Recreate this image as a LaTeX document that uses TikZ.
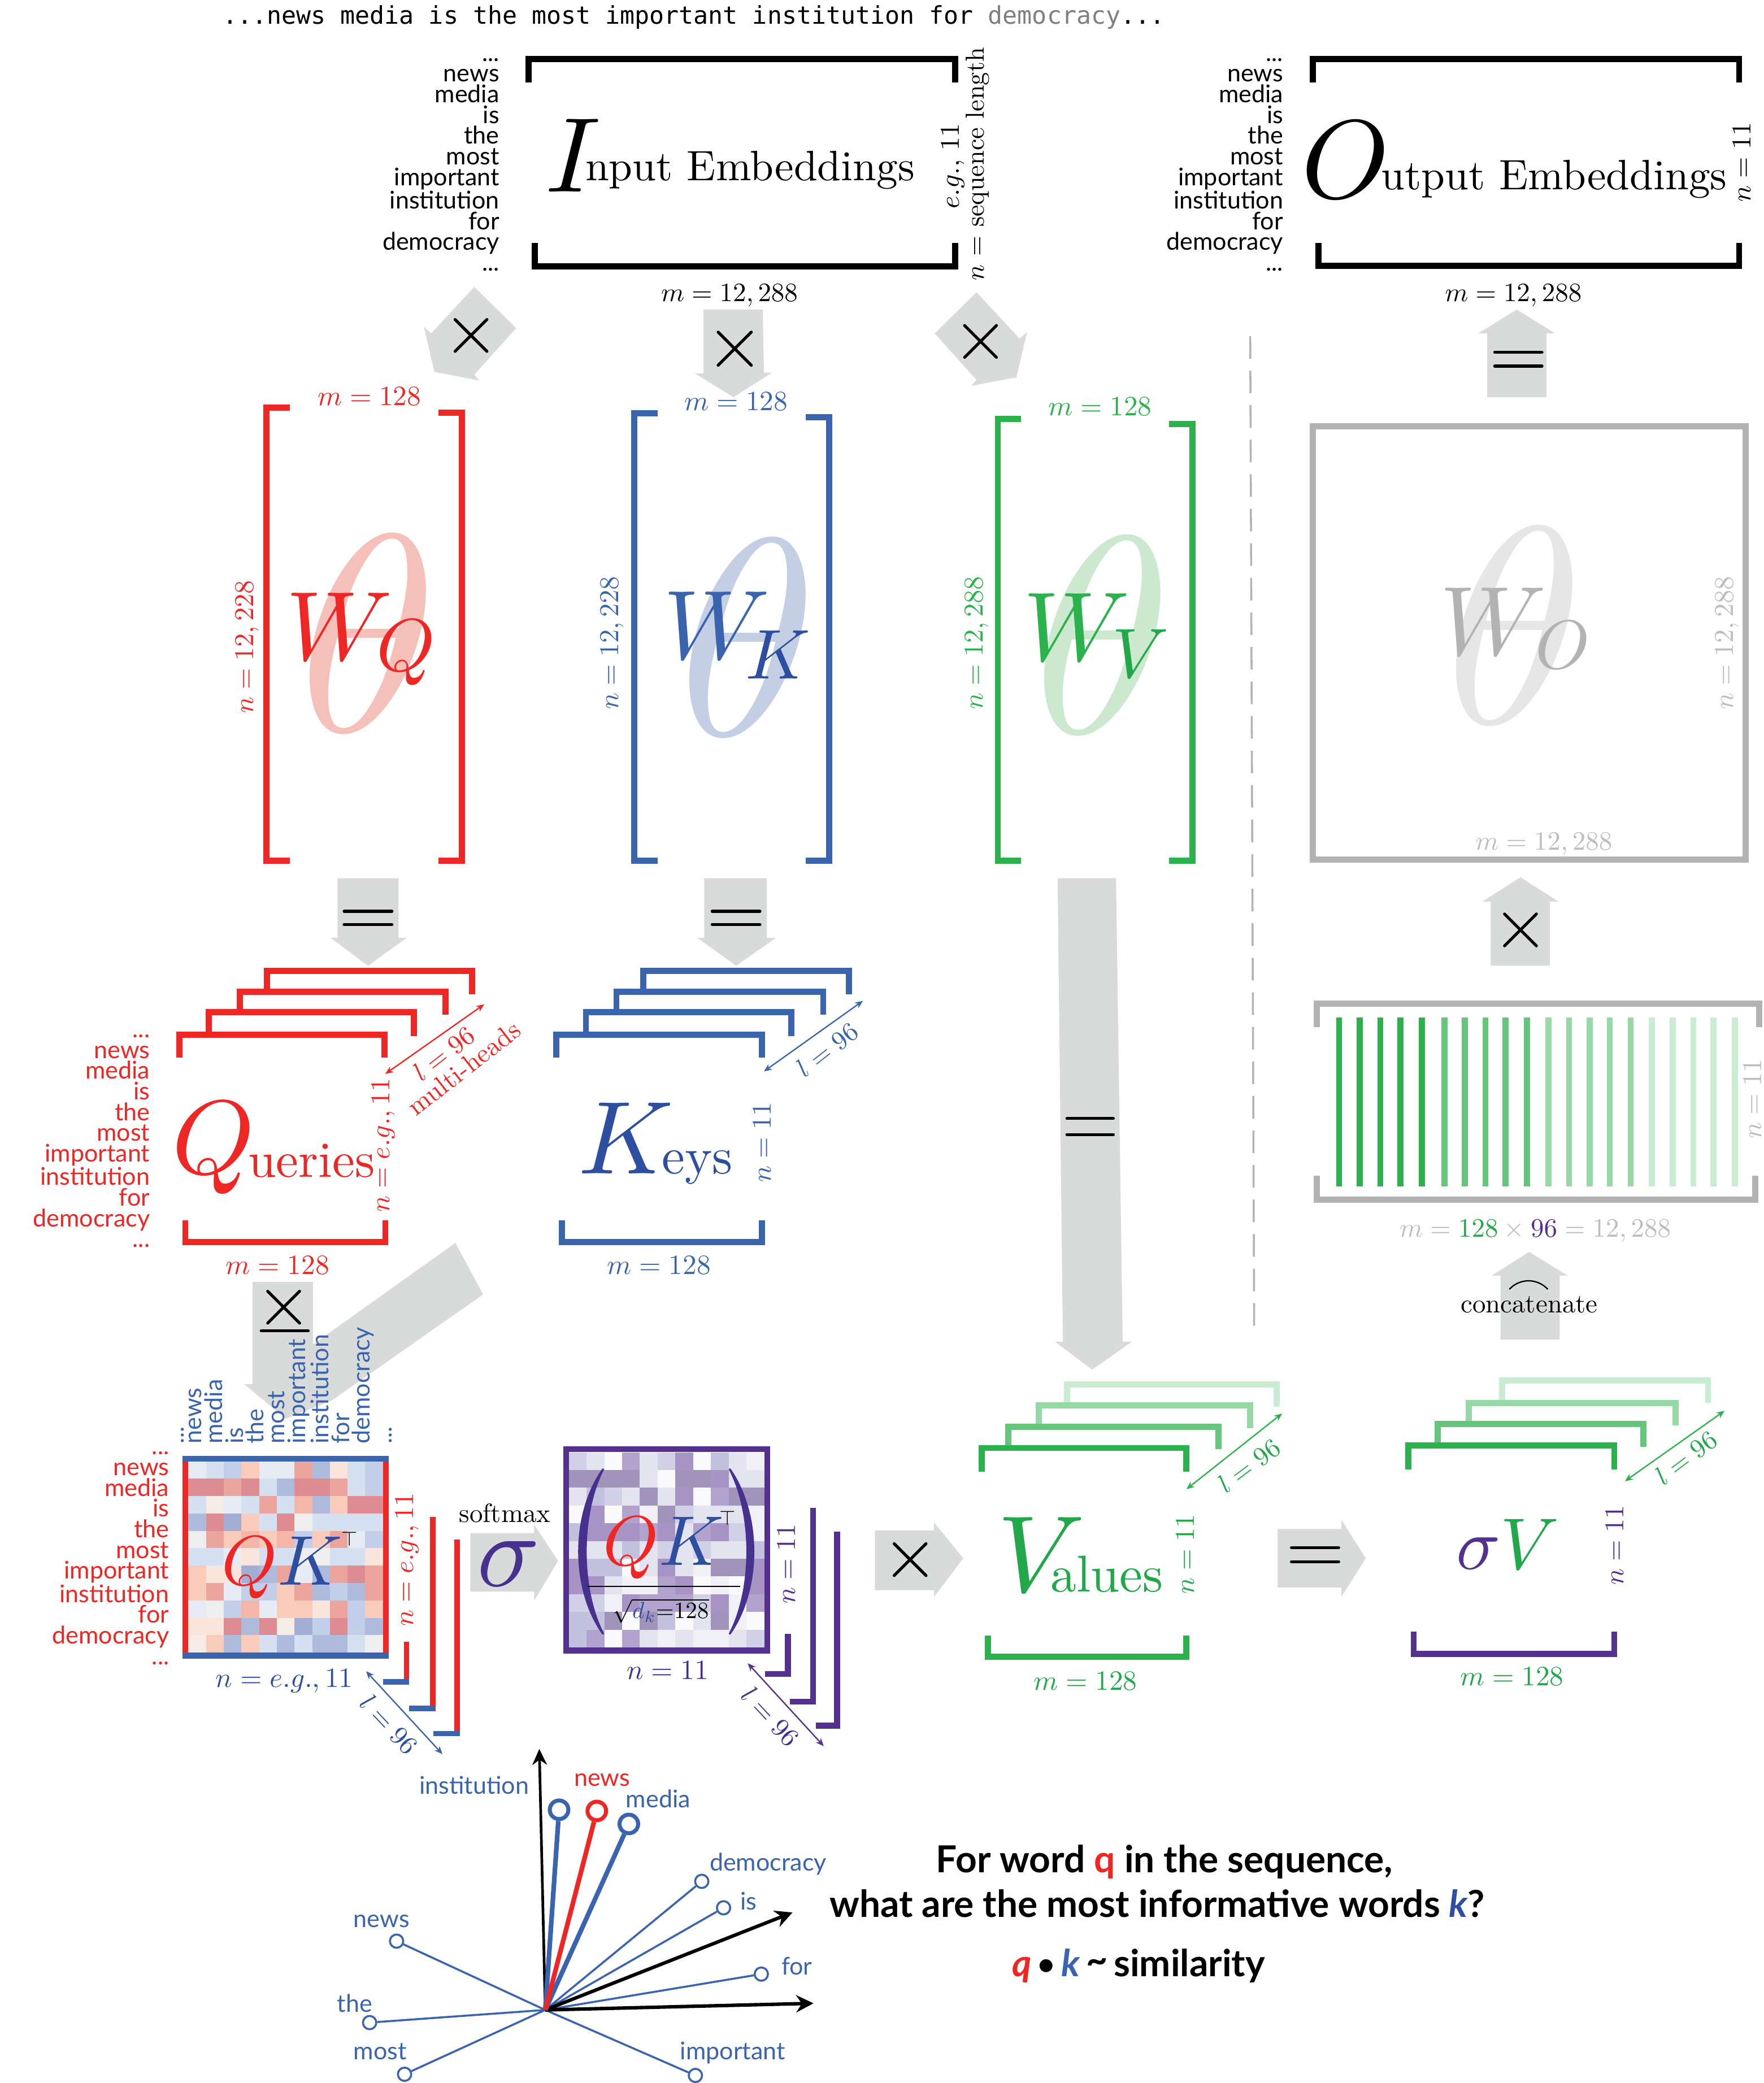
\documentclass[tikz,border=0pt]{standalone}
\usepackage{fix-cm}
\usepackage{fontspec}
\usetikzlibrary{arrows.meta}
\newfontfamily\gill{Lato}
\newfontfamily\monof{DejaVu Sans Mono}
\newcommand\fs[1]{\fontsize{#1}{#1}\selectfont}
\definecolor{cR}{HTML}{EE2724}
\definecolor{cB}{HTML}{3A64AE}
\definecolor{cBt}{HTML}{2E4F9F}
\definecolor{cG}{HTML}{2BB24C}
\definecolor{cGt}{HTML}{22A84A}
\definecolor{cP}{HTML}{54308F}
\definecolor{cPd}{HTML}{47318F}
\definecolor{cY}{HTML}{B3B3B3}
\definecolor{cYt}{HTML}{BDBDBD}
\definecolor{cA}{HTML}{D9DBDB}
\definecolor{gB}{HTML}{65C67B}
\definecolor{gC}{HTML}{96D8A6}
\definecolor{gD}{HTML}{C9ECD2}
\definecolor{tR}{HTML}{F5BFBA}
\definecolor{tB}{HTML}{C4CEE5}
\definecolor{tG}{HTML}{CCE8CE}
\definecolor{tY}{HTML}{E6E6E6}
% QK heat map
\definecolor{qa}{HTML}{A4AED5}\definecolor{qb}{HTML}{AFBBDC}\definecolor{qc}{HTML}{C3CFE8}
\definecolor{qd}{HTML}{D5E0F1}\definecolor{qe}{HTML}{E6EBF6}\definecolor{qn}{HTML}{EEEEEE}
\definecolor{qo}{HTML}{F6ECE6}\definecolor{qp}{HTML}{FAE5DC}\definecolor{qq}{HTML}{F8CBBB}
\definecolor{qr}{HTML}{F3B6A9}\definecolor{qs}{HTML}{EBA49E}\definecolor{qt}{HTML}{DE8C91}
% softmax heat map
\definecolor{pw}{HTML}{FAFAFC}\definecolor{pg}{HTML}{F1F0F7}\definecolor{pa}{HTML}{E4E3F0}
\definecolor{pb}{HTML}{D2D0E6}\definecolor{pc}{HTML}{C2C1DE}\definecolor{pd}{HTML}{B1A3CE}
\definecolor{pe}{HTML}{A894C4}\definecolor{pf}{HTML}{A094BA}
\tikzset{
  brk/.style={line width=4.6pt,line cap=butt,line join=miter},
  opline/.style={line width=2.2pt,line cap=round,black},
  blockarrow/.style={fill=cA,draw=none},
  lab/.style={inner sep=0pt,anchor=base,scale=2.1},
  rlab/.style={inner sep=0pt,rotate=90,scale=2.05},
  dimlab/.style={inner sep=0pt,scale=2.0},
  dimarr/.style={{Stealth[length=6pt,width=5pt]}-{Stealth[length=6pt,width=5pt]},line width=1pt},
  wordlist/.style={inner sep=0pt,anchor=east,align=right,font={\gill\fontsize{18.3}{15.6}\selectfont}},
  vwordlist/.style={inner sep=0pt,align=left,rotate=90,anchor=west,text=cB,font={\gill\fontsize{18.3}{15.6}\selectfont}},
  word/.style={inner sep=0pt,anchor=base west,text=cB,font={\gill\fs{18.3}}},
  big/.style={inner sep=0pt,anchor=base west},
  dot/.style={circle,draw=cB,fill=white,inner sep=0pt,minimum size=10pt,line width=1.5pt},
  bigdot/.style={circle,draw=cB,fill=white,inner sep=0pt,minimum size=14pt,line width=3pt},
  bold/.style={inner sep=0pt,anchor=base,font={\gill\bfseries\fs{28}}}
}
\newcommand\crossmark[3]{\draw[opline] (#1-#3,#2-#3)--(#1+#3,#2+#3) (#1+#3,#2-#3)--(#1-#3,#2+#3);}
\newcommand\eqmark[4]{\draw[opline] (#1,#3)--(#2,#3) (#1,#4)--(#2,#4);}
\newcommand\dimline[6]{\coordinate (#1a) at (#3,#4);\coordinate (#1b) at (#5,#6);\draw[dimarr,#2] (#1a)--(#1b);}
\begin{document}
\begin{tikzpicture}[x=1pt,y=-1pt]
\useasboundingbox (0,0) rectangle (1327.3,1568);
\fill[white] (0,0) rectangle (1327.3,1568);
% top sentence
\node[big,font={\monof\fs{18.4}}] (sent) at (167.5,18) {...news media is the most important institution for \textcolor[HTML]{808080}{democracy}...};
% input embeddings
\draw[brk] (398,62)--(398,44.5)--(719,44.5)--(719,62);
\draw[brk] (402.5,183)--(402.5,200.5)--(719,200.5)--(719,183);
\node[wordlist] (inwords) at (376,124) {...\\news\\media\\is\\the\\most\\important\\institution\\for~\\democracy\\...};
\node[big,scale=8] (inI) at (409,144.3) {$I$};
\node[big,scale=3.2] (inT) at (440,136) {nput Embeddings};
\node[rlab] (inE) at (717,125) {$e.g.$, 11};
\node[rlab,scale=0.96] (inN) at (736,123.5) {$n$ = sequence length};
\node[lab,scale=0.95] (inM) at (549,227) {$m=12,288$};
% output embeddings
\draw[brk] (988,62)--(988,44.5)--(1309,44.5)--(1309,62);
\draw[brk] (992.5,183)--(992.5,200)--(1309,200)--(1309,183);
\node[wordlist] (outwords) at (966,124) {...\\news\\media\\is\\the\\most\\important\\institution\\for~\\democracy\\...};
\node[big,scale=8.4] (outO) at (978,149) {$O$};
\node[big,scale=3.2] (outT) at (1039,142.5) {utput Embeddings};
\node[rlab] (outN) at (1311,122) {$n=11$};
\node[lab,scale=0.95] (outM) at (1139,227) {$m=12,288$};
% x arrows from input
\fill[blockarrow] (357,216)--(388.5,247)--(357,282)--(361,286.5)--(327,280)--(319,246)--(324.5,251)--cycle;
\fill[blockarrow] (529.5,233)--(574,233)--(575,280.6)--(581,280.6)--(552,299)--(523,281)--(529.5,281)--cycle;
\fill[blockarrow] (735,220)--(703.5,251)--(735,286)--(731,290.5)--(765,284)--(773,250)--(767.5,255)--cycle;
\crossmark{354.5}{252.5}{12}
\crossmark{553}{262.5}{12.5}
\crossmark{738}{257}{12}
% W matrices
\node[inner sep=0pt,text=tR,scale=21.2] (tq) at (277,477) {$\theta$};
\node[inner sep=0pt,text=tB,scale=21.2] (tk) at (563,480) {$\theta$};
\node[inner sep=0pt,text=tG,scale=21.2] (tv) at (830,478) {$\theta$};
\node[inner sep=0pt,text=tY,scale=21.2] (to) at (1140,471) {$\theta$};
\draw[brk,cR] (218,307)--(200.5,307)--(200.5,648)--(218,648);
\draw[brk,cR] (330,310.5)--(347.5,310.5)--(347.5,648)--(330,648);
\draw[brk,cB] (495,311)--(477.5,311)--(477.5,648)--(495,648);
\draw[brk,cB] (606.5,314)--(624,314)--(624,648)--(606.5,648);
\draw[brk,cG] (768.5,315.5)--(751,315.5)--(751,648)--(768.5,648);
\draw[brk,cG] (880,319)--(897.5,319)--(897.5,648)--(880,648);
\draw[line width=4.6pt,cY] (988,321)rectangle(1314,647);
\node[lab,text=cR] (wqm) at (278,305) {$m=128$};
\node[lab,text=cB] (wkm) at (554,309) {$m=128$};
\node[lab,text=cG] (wvm) at (828,313) {$m=128$};
\node[rlab,text=cR] (wqn) at (186,487) {$n=12,228$};
\node[rlab,text=cB] (wkn) at (461,484) {$n=12,228$};
\node[rlab,text=cG] (wvn) at (735,484) {$n=12,288$};
\node[rlab,text=cYt] (won) at (1300,484) {$n=12,288$};
\node[lab,scale=0.95,text=cYt] (wom) at (1162,640) {$m=12,288$};
\node[big,text=cR,scale=7.4] (wq) at (214,497) {$W$};
\node[big,text=cR,scale=5.6] (wqs) at (282.5,505) {$Q$};
\node[big,text=cB,scale=7.4] (wk) at (498,496) {$W$};
\node[big,text=cBt,scale=5.3] (wks) at (560,510.8) {$K$};
\node[big,text=cG,scale=7.4] (wv) at (769,497.5) {$W$};
\node[big,text=cGt,scale=5.3] (wvs) at (836,510) {$V$};
\node[big,text=cY,scale=7.4] (wo) at (1082.5,493) {$W$};
\node[big,text=cY,scale=5.2] (wos) at (1154.5,503.5) {$O$};
% = arrows
\fill[blockarrow] (254,661)--(300,661)--(300,706)--(306,706)--(277,727)--(249,706)--(254,706)--cycle;
\fill[blockarrow] (530,661)--(577,661)--(577,706)--(584,706)--(554,727)--(525,706)--(530,706)--cycle;
\eqmark{259}{295}{686}{696}
\eqmark{536}{572}{686}{696}
\fill[blockarrow] (796,661)--(840,661)--(845,1010)--(852,1010)--(822,1031)--(794,1010)--(800,1010)--cycle;
\eqmark{803}{838}{842}{854}
\fill[blockarrow] (1119.4,299)--(1164,299)--(1164,251)--(1170.6,251)--(1141.6,233)--(1112.6,251)--(1119.4,251)--cycle;
\eqmark{1125}{1160.6}{265.2}{275.6}
% separator
\coordinate (sepa) at (941,253);\coordinate (sepb) at (944,1005);
\draw[cY,line width=1.5pt,dash pattern=on 17pt off 9pt] (sepa)--(sepb);
% x up arrow
\fill[blockarrow] (1122,727)--(1166.6,727)--(1166.6,678.7)--(1173,678.7)--(1144.4,660.4)--(1115.6,678.7)--(1122,678.7)--cycle;
\crossmark{1144.4}{700}{12}
% concatenated box
\draw[brk,cY] (991,773)--(991,755.5)--(1324,755.5)--(1324,773);
\draw[brk,cY] (991,885)--(991,903)--(1321,903)--(1321,885);
\foreach \x/\c in {1007.9/cG,1023.4/cG,1038.9/cG,1054.1/cG,1070.1/cG,1087.1/gB,1102.6/gB,1118.1/gB,1133.1/gB,1149.4/gB,1165.4/gC,1180.9/gC,1196.4/gC,1211.6/gC,1227.4/gC,1243.4/gD,1258.9/gD,1274.6/gD,1289.6/gD,1305.9/gD}{
  \draw[line width=4.5pt,\c] (\x,766)--(\x,893);}
\node[rlab,text=cYt] (cn) at (1319,827) {$n=11$};
\node[big,text=cYt,scale=2.0] (cm) at (1053,931) {$m=\textcolor{cGt}{128}\times\textcolor{cP}{96}=12,288$};
% concatenate arrow
\fill[blockarrow] (1129.4,1008.4)--(1173.9,1008.4)--(1173.9,960.3)--(1180,960.3)--(1151,942.4)--(1122.6,960.3)--(1129.4,960.3)--cycle;
\draw[line width=1pt,black] (1136,970.5) .. controls (1144,962) and (1157,962) .. (1165,970.5);
\node[lab,scale=0.95] (conc) at (1151,988) {concatenate};
% sigma V stack
\draw[brk,gD] (1130.6,1056)--(1130.6,1039)--(1285.6,1039)--(1285.6,1056);
\draw[brk,gC] (1105.6,1073)--(1105.6,1056)--(1261,1056)--(1261,1073);
\draw[brk,gB] (1082,1089)--(1082,1072)--(1237,1072)--(1237,1089);
\draw[brk,cG] (1060,1106)--(1060,1088)--(1215,1088)--(1215,1106);
\dimline{dsv}{cG}{1223}{1115}{1298}{1062}
\node[dimlab,rotate=37,text=cGt] (lsv) at (1269,1097) {$l=96$};
\node[big,scale=5.5] (sv) at (1095,1181) {$\textcolor{cP}{\sigma}\textcolor{cGt}{V}$};
\node[rlab,text=cP] (svn) at (1215.5,1163) {$n=11$};
\draw[brk,cP] (1064,1228)--(1064,1245)--(1215,1245)--(1215,1228);
\node[lab,text=cGt] (svm) at (1138,1269) {$m=128$};
% values
\draw[brk,gD] (803,1059)--(803,1042)--(961,1042)--(961,1059);
\draw[brk,gC] (782,1075)--(782,1058)--(941,1058)--(941,1075);
\draw[brk,gB] (759,1091)--(759,1074)--(917,1074)--(917,1091);
\draw[brk,cG] (739,1108)--(739,1090)--(893,1090)--(893,1108);
\dimline{dv}{cG}{893}{1121}{965}{1064}
\node[dimlab,rotate=37,text=cGt] (lv) at (940,1103) {$l=96$};
\node[big,text=cGt,scale=8.2] (vV) at (749,1198) {$V$};
\node[big,text=cGt,scale=3.9] (vT) at (790,1198) {alues};
\node[rlab,text=cGt] (vn) at (892,1170) {$n=11$};
\draw[brk,cG] (743.5,1231)--(743.5,1247)--(893,1247)--(893,1231);
\node[lab,text=cGt] (vm) at (817,1272) {$m=128$};
% = and x horizontal arrows
\fill[blockarrow] (961.6,1151)--(1009.6,1151)--(1009.6,1144)--(1028,1173)--(1009.6,1202)--(1009.6,1195)--(961.6,1195)--cycle;
\eqmark{972}{1007.6}{1165}{1175.6}
\fill[blockarrow] (658.5,1152)--(703,1152)--(703,1146)--(725,1173)--(703,1202)--(703,1197)--(658.5,1197)--cycle;
\crossmark{685}{1174}{12}
% queries
\draw[brk,cR] (201,748.4)--(201,731)--(355.4,731)--(355.4,748.4);
\draw[brk,cR] (180.5,764)--(180.5,746.5)--(335.4,746.5)--(335.4,764);
\draw[brk,cR] (157,780)--(157,762)--(311.5,762)--(311.5,780);
\draw[brk,cR] (135,796)--(135,779)--(289.4,779)--(289.4,796);
\dimline{dq}{cR}{290}{808.4}{364.5}{756}
\node[dimlab,rotate=38,text=cR] (lq) at (334,793) {$l=96$};
\node[dimlab,rotate=38,text=cR] (lmh) at (349,804) {multi-heads};
\node[wordlist,text=cR] (qwords) at (113,859) {...\\news\\media\\is\\the\\most\\important\\institution\\for~\\democracy\\...};
\node[big,text=cR,scale=7.9] (qQ) at (128,883.5) {$Q$};
\node[big,text=cR,scale=3.8] (qT) at (186,886) {ueries};
\node[rlab,text=cR] (qn) at (288.5,862) {$n=e.g.,11$};
\draw[brk,cR] (139.5,918.5)--(139.5,935)--(290,935)--(290,918.5);
\node[lab,text=cR] (qm) at (209,959) {$m=128$};
% keys
\draw[brk,cB] (484,748.4)--(484,731)--(639,731)--(639,748.4);
\draw[brk,cB] (464,764)--(464,746.5)--(619.6,746.5)--(619.6,764);
\draw[brk,cB] (441,780)--(441,762)--(595.7,762)--(595.7,780);
\draw[brk,cB] (418.7,796)--(418.7,779)--(573.6,779)--(573.6,796);
\dimline{dk}{cB}{575}{806.5}{649.5}{753.4}
\node[dimlab,rotate=38,text=cB] (lk) at (622.6,790) {$l=96$};
\node[big,text=cBt,scale=7.8] (kK) at (433.5,883.6) {$K$};
\node[big,text=cBt,scale=3.9] (kT) at (497.5,883.6) {eys};
\node[rlab,text=cB] (kn) at (573.6,860) {$n=11$};
\draw[brk,cB] (423,918.5)--(423,935)--(573.5,935)--(573.5,918.5);
\node[lab,text=cB] (km) at (496,959) {$m=128$};
% combined arrow
\fill[blockarrow] (190,965)--(235.6,965)--(235.6,1012)--(342.8,935.6)--(363.6,974.4)--(250,1054)--(215,1068)--(184,1042)--(190,1042)--cycle;
\crossmark{213.5}{984}{12}
\draw[opline] (196.6,1001.7)--(232,1001.7);
% QK words
\node[vwordlist] (qkw) at (212,1087) {news\\media\\is\\the\\most\\important\\institution\\for\\democracy};
\node[vwordlist] (qkd1) at (137.5,1087) {...};
\node[vwordlist] (qkd2) at (294,1087) {...};
\node[wordlist,text=cR] (qkl) at (127.5,1173) {...\\news\\media\\is\\the\\most\\important\\institution\\for~\\democracy\\...};
% QK matrix
\foreach \row [count=\j from 0] in {{e,d,c,q,e,e,s,b,p,d,c},{t,t,s,t,d,b,t,t,s,d,c},{d,o,e,d,s,d,r,b,q,t,t},{b,t,a,q,d,t,n,d,d,d,d},{n,s,q,r,q,r,c,q,s,e,c},{d,d,e,p,d,d,n,n,d,d,p},{q,p,p,a,b,s,e,b,s,t,s},{q,s,e,c,c,q,s,b,c,b,s},{e,n,c,r,e,q,q,p,s,c,q},{p,p,t,b,t,o,a,c,t,c,b},{o,q,b,q,d,b,d,b,b,d,n}}{
  \foreach \c [count=\i from 0] in \row {
    \fill[q\c] ({141.8+13.31*\i},{1100+13.09*\j}) rectangle ({141.8+13.31*(\i+1)+0.2},{1100+13.09*(\j+1)+0.2});
  }}
\fill[cR] (137.4,1100) rectangle (141.8,1244);
\fill[cR] (288.2,1100) rectangle (292.6,1244);
\fill[cB] (137.4,1095.8) rectangle (292.6,1100);
\fill[cB] (137.4,1244) rectangle (292.6,1248.4);
\node[big,scale=5.3] (qk) at (166,1192.9) {$\textcolor{cR}{Q}\textcolor{cBt}{K}$};
\node[inner sep=0pt,scale=1.55] (qkt) at (263,1158.5) {$\top$};
\node[rlab,text=cR] (qkn) at (306.5,1174) {$n=e.g.,11$};
\node[lab,text=cBt] (qkm) at (214,1270) {$n=e.g.,11$};
\draw[line width=4pt,cR] (306,1236)--(306,1268);
\draw[line width=4pt,cB] (288.5,1266)--(308,1266);
\draw[line width=4pt,cR] (325.7,1142)--(325.7,1288);
\draw[line width=4pt,cB] (308,1286)--(327.6,1286);
\draw[line width=4pt,cR] (344,1159)--(344,1307);
\draw[line width=4pt,cB] (326,1305)--(346,1305);
\dimline{dqk}{cB}{275.5}{1258}{333}{1320.4}
\node[dimlab,rotate=-47,text=cBt] (lqk) at (293,1298) {$l=96$};
% softmax arrow
\fill[blockarrow] (354,1154)--(402,1154)--(402,1147.5)--(420,1175)--(402,1205)--(402,1198)--(354,1198)--cycle;
\node[lab,scale=0.95] (soft) at (380,1146) {softmax};
\node[big,text=cPd,scale=7.8] (sig) at (357.5,1194) {$\sigma$};
% softmax matrix
\foreach \row [count=\j from 0] in {{b,a,w,d,a,b,e,w,c,a,g},{f,f,f,f,a,w,f,f,e,a,a},{a,c,b,a,f,a,e,w,d,f,f},{w,e,w,d,g,f,b,a,a,a,g},{c,e,e,e,d,e,a,d,e,b,g},{a,a,a,c,a,b,a,b,a,a,c},{e,c,c,w,a,e,a,g,f,f,e},{e,e,a,g,g,d,e,w,g,w,e},{b,b,g,e,d,d,d,b,e,g,d},{c,c,f,w,f,c,w,a,f,g,w},{c,d,w,d,a,g,a,g,g,a,b}}{
  \foreach \c [count=\i from 0] in \row {
    \fill[p\c] ({428.1+13.38*\i},{1093.2+13.35*\j}) rectangle ({428.1+13.38*(\i+1)+0.2},{1093.2+13.35*(\j+1)+0.2});
  }}
\draw[line width=4.4pt,cP] (426,1090.8) rectangle (577.4,1242.4);
\fill[cPd,draw=cPd,line width=1.5pt,line join=round] (453.9,1106) .. controls (429.9,1140) and (429.9,1196) .. (453.9,1229.8) .. controls (436.5,1196) and (436.5,1140) .. (453.9,1106) -- cycle;
\fill[cPd,draw=cPd,line width=1.5pt,line join=round] (549.3,1106) .. controls (572.9,1140) and (572.9,1196) .. (549.3,1229.8) .. controls (566.9,1196) and (566.9,1140) .. (549.3,1106) -- cycle;
\node[big,scale=5.3] (qk2) at (453,1178.4) {$\textcolor{cR}{Q}\textcolor{cBt}{K}$};
\node[inner sep=0pt,scale=1.55] (qk2t) at (547.8,1142.5) {$\top$};
\coordinate (fraca) at (442.3,1194.2);\coordinate (fracb) at (557.1,1194.2);
\draw[black,line width=1pt] (fraca)--(fracb);
\node[big,scale=1.75] (dk) at (461,1218.4) {$\sqrt{\textcolor{cBt}{d_k}{=}128}$};
\node[rlab,text=cP] (pn) at (592,1177) {$n=11$};
\node[lab,text=cPd] (pm) at (502.5,1264) {$n=11$};
\draw[line width=4.4pt,cP] (593,1230)--(593,1262) (576,1260)--(595.2,1260);
\draw[line width=4.4pt,cP] (612,1135)--(612,1283) (594.5,1281)--(614.2,1281);
\draw[line width=4.4pt,cP] (630,1153)--(630,1301) (614,1299)--(632.2,1299);
\dimline{dp}{cP}{562.8}{1252}{620}{1314.4}
\node[dimlab,rotate=-47,text=cPd] (lp) at (580,1292) {$l=96$};
% word vectors
\coordinate (org) at (410.4,1513);
\coordinate (axu) at (405.9,1316.5);
\coordinate (axd) at (596.5,1439.6);
\coordinate (axr) at (612.3,1508);
\node[bigdot] (vinst) at (420.8,1362.3) {};
\node[bigdot,draw=cR] (vnewsq) at (449.2,1363.2) {};
\node[bigdot] (vmedia) at (473.3,1373) {};
\node[dot] (vdem) at (528.2,1416.2) {};
\node[dot] (vis) at (544.6,1436.1) {};
\node[dot] (vfor) at (573,1486) {};
\node[dot] (vnews) at (298.5,1461.2) {};
\node[dot] (vthe) at (278.2,1522.5) {};
\node[dot] (vmost) at (304.5,1561.4) {};
\node[dot] (vimp) at (523.4,1562.3) {};
\draw[cB,line width=1.5pt] (org)--(vdem) (org)--(vis) (org)--(vfor) (org)--(vnews) (org)--(vthe) (org)--(vmost) (org)--(vimp);
\draw[black,line width=2pt,-{Stealth[length=12pt,width=11pt]}] (org)--(axu);
\draw[black,line width=2.6pt,-{Stealth[length=13pt,width=13pt]}] (org)--(axd);
\draw[black,line width=2.6pt,-{Stealth[length=13pt,width=13pt]}] (org)--(axr);
\draw[cB,line width=3.5pt] (org)--(vinst);
\draw[cB,line width=3.5pt] (org)--(vmedia);
\draw[cR,line width=3.5pt] (org)--(vnewsq);
\node[word] (tinst) at (315.5,1350.6) {institution};
\node[word,text=cR] (tnewsq) at (432,1344.5) {news};
\node[word] (tmedia) at (471,1360.5) {media};
\node[word] (tdem) at (534,1408.5) {democracy};
\node[word] (tis) at (557,1437.8) {is};
\node[word] (tfor) at (588,1486.5) {for};
\node[word] (tnews) at (266,1451) {news};
\node[word] (tthe) at (253.5,1514.5) {the};
\node[word] (tmost) at (266,1550.5) {most};
\node[word] (timp) at (511.8,1550.5) {important};
% bold text
\node[bold] (b1) at (876.5,1409.4) {For word \textcolor{cR}{q} in the sequence,};
\node[bold] (b2) at (871,1443) {what are the most informative words \textcolor{cBt}{\itshape k}?};
\node[bold] (b3) at (857,1488) {\textcolor{cR}{\itshape q}\,\raisebox{0.05em}{\scalebox{0.8}{•}}\,\textcolor{cB}{\itshape k}\,\raisebox{0.1em}{\textasciitilde}\,similarity};
\end{tikzpicture}
\end{document}
